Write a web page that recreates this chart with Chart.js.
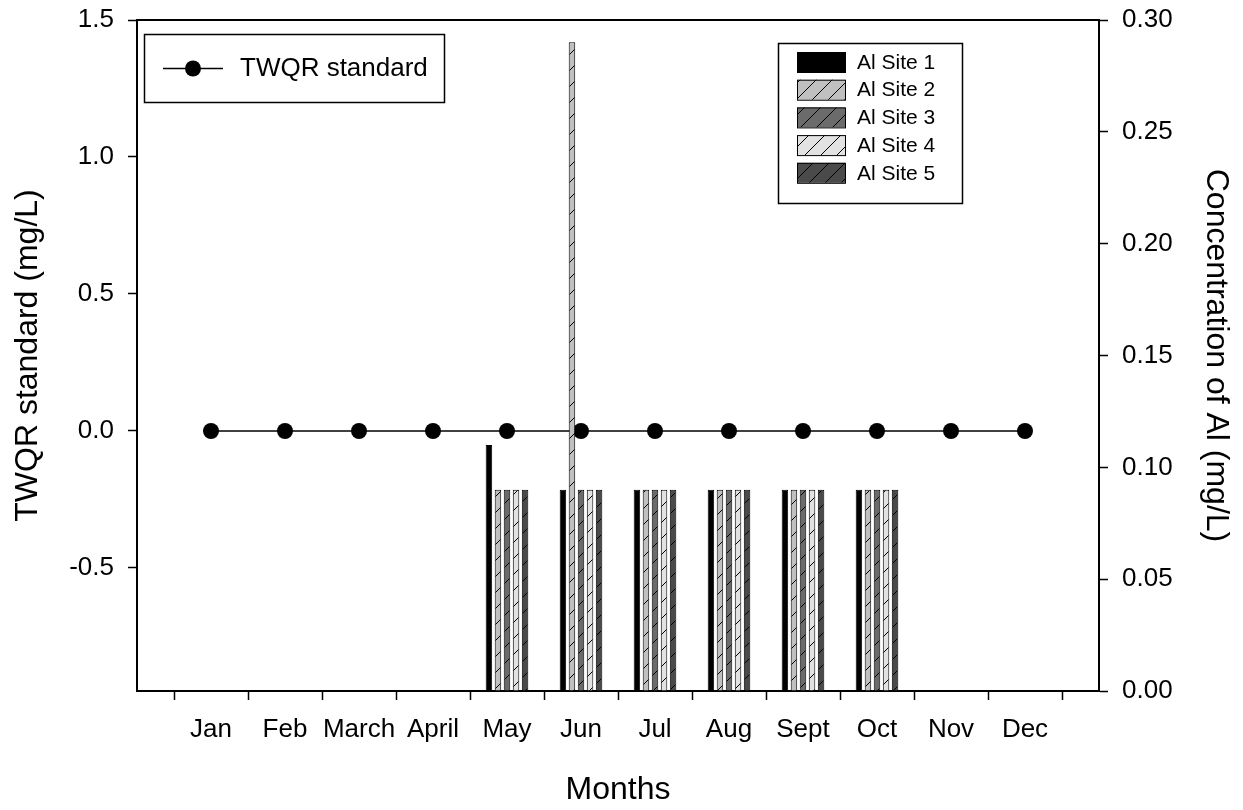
<!DOCTYPE html>
<html>
<head>
<meta charset="utf-8">
<script src="https://cdn.jsdelivr.net/npm/chart.js@4.4.1/dist/chart.umd.min.js"></script>
<style>
  body { margin: 0; background: #fff; }
  canvas { display: block; }
</style>
</head>
<body>
<canvas id="chart" width="1243" height="810"></canvas>
<script>
// ================= data =================
const months = ["Jan", "Feb", "March", "April", "May", "Jun", "Jul", "Aug", "Sept", "Oct", "Nov", "Dec"];
const twqr = [0, 0, 0, 0, 0, 0, 0, 0, 0, 0, 0, 0];
const site1 = [null, null, null, null, 0.11, 0.09, 0.09, 0.09, 0.09, 0.09, null, null];
const site2 = [null, null, null, null, 0.09, 0.29, 0.09, 0.09, 0.09, 0.09, null, null];
const site3 = [null, null, null, null, 0.09, 0.09, 0.09, 0.09, 0.09, 0.09, null, null];
const site4 = [null, null, null, null, 0.09, 0.09, 0.09, 0.09, 0.09, 0.09, null, null];
const site5 = [null, null, null, null, 0.09, 0.09, 0.09, 0.09, 0.09, 0.09, null, null];
const leftTicks = [-0.5, 0, 0.5, 1.0, 1.5];

const FONT = "'Liberation Sans', Arial, Helvetica, sans-serif";

// blank slots at both ends so the axis runs one month past Jan and Dec
const pad = arr => [null, ...arr, null];
const labels = ["", ...months, ""];

// ================= hatch =================
function hatch(bg) {
  const s = 16;
  const c = document.createElement("canvas");
  c.width = s; c.height = s;
  const g = c.getContext("2d");
  g.fillStyle = bg;
  g.fillRect(0, 0, s, s);
  g.strokeStyle = "#000";
  g.lineWidth = 1;
  g.beginPath();
  g.moveTo(0, s); g.lineTo(s, 0);
  g.moveTo(-2, 2); g.lineTo(2, -2);
  g.moveTo(s - 2, s + 2); g.lineTo(s + 2, s - 2);
  g.stroke();
  return g.createPattern(c, "repeat");
}

const siteStyles = [
  { label: "Al Site 1", data: site1, fill: "#000000" },
  { label: "Al Site 2", data: site2, fill: hatch("#c0c0c0") },
  { label: "Al Site 3", data: site3, fill: hatch("#6b6b6b") },
  { label: "Al Site 4", data: site4, fill: hatch("#e2e2e2") },
  { label: "Al Site 5", data: site5, fill: hatch("#4a4a4a") },
];

const barSets = siteStyles.map(s => ({
  type: "bar",
  label: s.label,
  data: pad(s.data),
  yAxisID: "y1",
  backgroundColor: s.fill,
  borderColor: "#000",
  borderWidth: 1,
  categoryPercentage: 0.61,
  barPercentage: 0.72,
  order: 1
}));

// no extra room for the end tick labels: plot box is fixed
function fixY(width) {
  return s => {
    s.width = width;
    s.paddingTop = 0;
    s.paddingBottom = 0;
  };
}

// ================= legends + frame =================
const extras = {
  id: "extras",
  afterDraw(chart) {
    const ctx = chart.ctx;
    const a = chart.chartArea;
    ctx.save();

    // top frame line
    ctx.strokeStyle = "#000";
    ctx.lineWidth = 2;
    ctx.beginPath();
    ctx.moveTo(a.left, a.top);
    ctx.lineTo(a.right, a.top);
    ctx.stroke();

    // TWQR legend
    ctx.lineWidth = 1.5;
    ctx.strokeRect(144.5, 34.5, 300, 68);
    ctx.beginPath();
    ctx.moveTo(163, 68.5);
    ctx.lineTo(223, 68.5);
    ctx.stroke();
    ctx.fillStyle = "#000";
    ctx.beginPath();
    ctx.arc(193, 68.5, 8, 0, Math.PI * 2);
    ctx.fill();
    ctx.font = "26px " + FONT;
    ctx.textBaseline = "middle";
    ctx.fillText("TWQR standard", 240, 69);

    // sites legend
    ctx.lineWidth = 1.5;
    ctx.strokeRect(778.5, 43.5, 184, 160);
    ctx.font = "21px " + FONT;
    siteStyles.forEach((s, i) => {
      const y = 52 + i * 27.7;
      ctx.fillStyle = s.fill;
      ctx.fillRect(797, y, 48, 20);
      ctx.lineWidth = 1;
      ctx.strokeStyle = "#000";
      ctx.strokeRect(797.5, y + 0.5, 48, 20);
      ctx.fillStyle = "#000";
      ctx.fillText(s.label, 857, y + 11);
    });

    ctx.restore();
  }
};

// ================= chart =================
new Chart(document.getElementById("chart"), {
  data: {
    labels,
    datasets: [
      {
        type: "line",
        label: "TWQR standard",
        data: pad(twqr),
        yAxisID: "y",
        borderColor: "#000",
        borderWidth: 1.5,
        pointRadius: 8,
        pointBackgroundColor: "#000",
        pointBorderColor: "#000",
        pointBorderWidth: 0,
        order: 2
      },
      ...barSets
    ]
  },
  options: {
    responsive: false,
    animation: false,
    layout: { padding: { top: 20, left: 0, right: 0, bottom: 0 } },
    plugins: {
      legend: { display: false },
      tooltip: { enabled: false }
    },
    scales: {
      x: {
        type: "category",
        offset: false,
        afterFit: s => { s.height = 119; s.paddingLeft = 0; s.paddingRight = 0; },
        border: { display: true, color: "#000", width: 2 },
        grid: { drawOnChartArea: false, drawTicks: true, tickLength: 9, tickColor: "#000", tickWidth: 1.5 },
        ticks: { color: "#000", font: { family: FONT, size: 26 }, padding: 14, maxRotation: 0, autoSkip: false },
        title: { display: true, text: "Months", color: "#000", font: { family: FONT, size: 32 }, padding: { top: 0, bottom: 1 } }
      },
      y: {
        position: "left",
        min: -0.949,
        max: 1.5,
        afterBuildTicks: s => { s.ticks = leftTicks.map(v => ({ value: v })); },
        afterFit: fixY(137),
        border: { display: true, color: "#000", width: 2 },
        grid: { drawOnChartArea: false, drawTicks: true, tickLength: 9, tickColor: "#000", tickWidth: 1.5 },
        ticks: { color: "#000", font: { family: FONT, size: 26 }, padding: 14, callback: v => v.toFixed(1) },
        title: { display: true, text: "TWQR standard (mg/L)", color: "#000", font: { family: FONT, size: 32 }, padding: { top: 9, bottom: 0 } }
      },
      y1: {
        position: "right",
        min: 0,
        max: 0.3,
        afterFit: fixY(144),
        border: { display: true, color: "#000", width: 2 },
        grid: { drawOnChartArea: false, drawTicks: true, tickLength: 9, tickColor: "#000", tickWidth: 1.5 },
        ticks: { color: "#000", font: { family: FONT, size: 26 }, padding: 14, stepSize: 0.05, callback: v => v.toFixed(2) },
        title: { display: true, text: "Concentration of Al (mg/L)", color: "#000", font: { family: FONT, size: 32 }, padding: { top: 8, bottom: 0 } }
      }
    }
  },
  plugins: [extras]
});
</script>
</body>
</html>
